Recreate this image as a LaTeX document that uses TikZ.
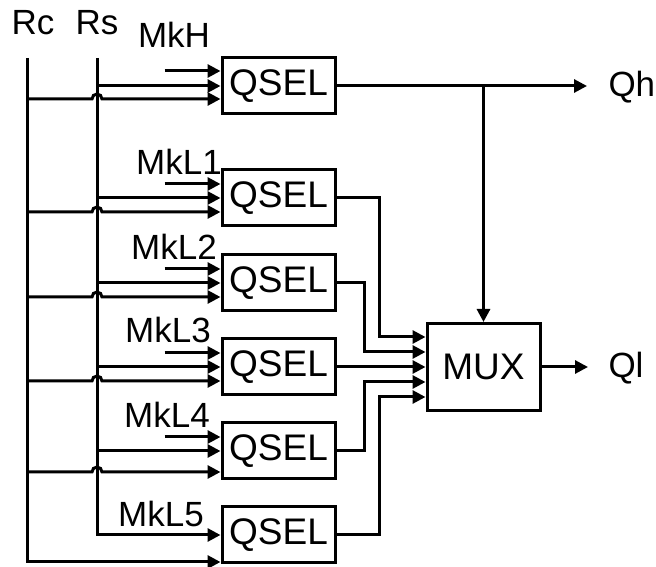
\documentclass[tikz,border=0pt]{standalone}
\usepackage{fontspec}
\setmainfont{Liberation Sans}
\usetikzlibrary{arrows.meta,calc}

\begin{document}
\begin{tikzpicture}[
    x=1pt, y=1pt, line width=3pt,
    block/.style={draw, line width=3pt, minimum width=113pt, minimum height=#1,
                  inner sep=0pt, font=\fontsize{37}{42}\selectfont},
    block/.default=56pt,
    arrow/.style={-{Triangle[length=13pt,width=13pt]}},
    lbl/.style={font=\fontsize{35}{40}\selectfont, inner sep=0pt, anchor=base}
]
\useasboundingbox (0,0) rectangle (656,567);

%% QSEL blocks
\node[block] (qh) at (278.5,481) {QSEL};
\node[block] (ql1) at (278.5,369) {QSEL};
\node[block] (ql2) at (278.5,284) {QSEL};
\node[block] (ql3) at (278.5,200) {QSEL};
\node[block] (ql4) at (278.5,116) {QSEL};
\node[block] (ql5) at (278.5,32) {QSEL};

%% Multiplexer
\node[block=87pt] (mux) at (483.5,200) {MUX};

%% Labels
\node[lbl] (rclab) at (33,532) {Rc};
\node[lbl] (rslab) at (97,532) {Rs};
\node[lbl] (mkh) at (174,519) {MkH};
\node[lbl] (mkl1) at (179,392) {MkL1};
\node[lbl] (mkl2) at (174,307) {MkL2};
\node[lbl] (mkl3) at (168,224) {MkL3};
\node[lbl] (mkl4) at (167,139) {MkL4};
\node[lbl] (mkl5) at (161,40) {MkL5};
\node[lbl, anchor=base west] (qhlab) at (607,470) {Qh};
\node[lbl, anchor=base west] (qllab) at (607,189) {Ql};

%% Buses
\coordinate (rctop) at (27,509);
\coordinate (rstop) at (97,509);
\draw[arrow] (rctop) -- ($(rctop |- ql5.west)+(0,-27)$) -- ($(ql5.west)+(0,-27)$);
\draw[arrow] (rstop) -- (rstop |- ql5.west) -- (ql5.west);

%% Mask inputs
\draw[arrow] ($(qh.west)+(-56,15)$) -- ($(qh.west)+(0,15)$);
\draw[arrow] ($(ql1.west)+(-56,14)$) -- ($(ql1.west)+(0,14)$);
\draw[arrow] ($(ql2.west)+(-56,14)$) -- ($(ql2.west)+(0,14)$);
\draw[arrow] ($(ql3.west)+(-56,14)$) -- ($(ql3.west)+(0,14)$);
\draw[arrow] ($(ql4.west)+(-56,14)$) -- ($(ql4.west)+(0,14)$);

%% Rs inputs
\draw[arrow] (rstop |- qh.west) -- (qh.west);
\draw[arrow] (rstop |- ql1.west) -- (ql1.west);
\draw[arrow] (rstop |- ql2.west) -- (ql2.west);
\draw[arrow] (rstop |- ql3.west) -- (ql3.west);
\draw[arrow] (rstop |- ql4.west) -- (ql4.west);

%% Rc inputs (hop over Rs)
\draw[arrow] ($(rctop |- qh.west)+(0,-13)$) -- ++(65,0) arc[start angle=180, end angle=0, radius=5] -- ($(qh.west)+(0,-13)$);
\draw[arrow] ($(rctop |- ql1.west)+(0,-14)$) -- ++(65,0) arc[start angle=180, end angle=0, radius=5] -- ($(ql1.west)+(0,-14)$);
\draw[arrow] ($(rctop |- ql2.west)+(0,-14)$) -- ++(65,0) arc[start angle=180, end angle=0, radius=5] -- ($(ql2.west)+(0,-14)$);
\draw[arrow] ($(rctop |- ql3.west)+(0,-14)$) -- ++(65,0) arc[start angle=180, end angle=0, radius=5] -- ($(ql3.west)+(0,-14)$);
\draw[arrow] ($(rctop |- ql4.west)+(0,-21)$) -- ++(65,0) arc[start angle=180, end angle=0, radius=5] -- ($(ql4.west)+(0,-21)$);

%% Outputs
\draw[arrow] (qh.east) -- ($(qh.east -| qhlab.west)+(-20,0)$);
\draw[arrow] (mux.north |- qh.east) -- (mux.north);
\draw[arrow] (ql1.east) -- ++(43,0) |- ($(mux.west)+(0,30)$);
\draw[arrow] (ql2.east) -- ++(28,0) |- ($(mux.west)+(0,15)$);
\draw[arrow] (ql3.east) -- (mux.west);
\draw[arrow] (ql4.east) -- ++(28,0) |- ($(mux.west)+(0,-15)$);
\draw[arrow] (ql5.east) -- ++(43,0) |- ($(mux.west)+(0,-30)$);
\draw[arrow] (mux.east) -- ($(mux.east -| qllab.west)+(-19,0)$);

\end{tikzpicture}
\end{document}
